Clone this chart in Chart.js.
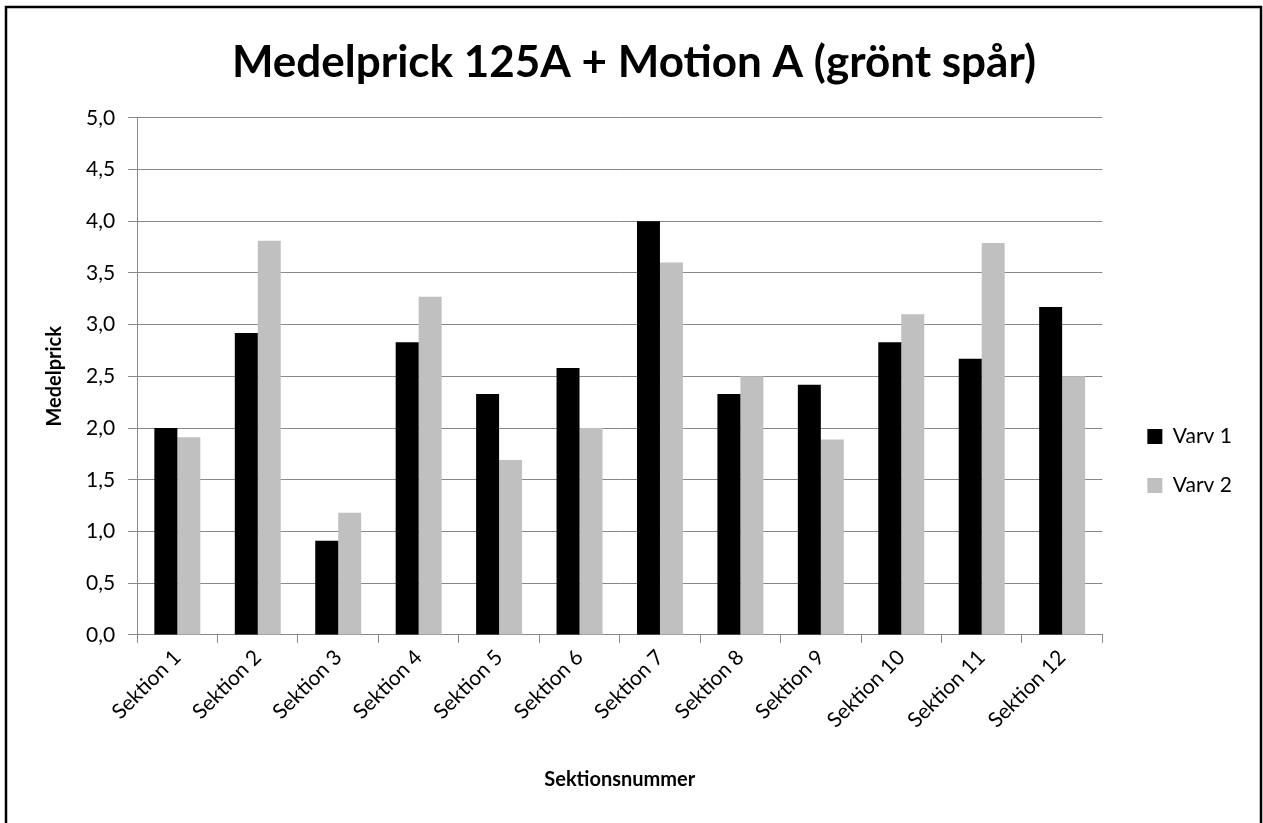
<!DOCTYPE html>
<html>
<head>
<meta charset="utf-8">
<script src="https://cdn.jsdelivr.net/npm/chart.js@4"></script>
<style>
    body { margin: 0; background: #fff; }
    #wrap { width: 1263px; height: 823px; position: relative; }
</style>
</head>
<body>
<div id="wrap"><canvas id="myChart"></canvas></div>
<script>
const sektioner = ['Sektion 1', 'Sektion 2', 'Sektion 3', 'Sektion 4', 'Sektion 5', 'Sektion 6',
    'Sektion 7', 'Sektion 8', 'Sektion 9', 'Sektion 10', 'Sektion 11', 'Sektion 12'];
const varv1 = [2.0, 2.92, 0.91, 2.83, 2.33, 2.58, 4.0, 2.33, 2.42, 2.83, 2.67, 3.17];
const varv2 = [1.91, 3.81, 1.18, 3.27, 1.69, 2.0, 3.6, 2.5, 1.89, 3.1, 3.79, 2.5];

const font = 'Lato, "Open Sans", sans-serif';

// white background, outer frame, legend nudged like the original
const frame = {
    id: 'frame',
    afterLayout(chart) {
        const lg = chart.legend;
        lg.top += 56;
        lg.bottom += 56;
        lg.left += 17;
        lg.right += 17;
    },
    beforeDraw(chart) {
        const c = chart.ctx;
        c.save();
        c.fillStyle = '#fff';
        c.fillRect(0, 0, chart.width, chart.height);
        c.restore();
    },
    afterDraw(chart) {
        const c = chart.ctx;
        c.save();
        c.strokeStyle = '#000';
        c.lineWidth = 2.5;
        c.strokeRect(6, 7, 1255, 818);
        c.restore();
    }
};

const ctx = document.getElementById('myChart');

new Chart(ctx, {
    type: 'bar',
    data: {
        labels: sektioner,
        datasets: [{
            label: 'Varv 1',
            data: varv1,
            backgroundColor: '#000000',
            borderWidth: 0
        }, {
            label: 'Varv 2',
            data: varv2,
            backgroundColor: '#c0c0c0',
            borderWidth: 0
        }]
    },
    options: {
        responsive: true,
        maintainAspectRatio: false,
        animation: false,
        categoryPercentage: 2 / 3.5,
        barPercentage: 1,
        layout: {
            padding: { left: 43, right: 38, top: 18, bottom: 31 }
        },
        plugins: {
            title: {
                display: true,
                text: 'Medelprick 125A + Motion A (grönt spår)',
                color: '#000',
                font: { family: font, size: 44, weight: 'bold' },
                padding: { top: 18, bottom: 29 }
            },
            legend: {
                position: 'right',
                labels: {
                    color: '#000',
                    font: { family: font, size: 21 },
                    boxWidth: 15,
                    boxHeight: 15,
                    padding: 28
                }
            },
            tooltip: { enabled: false }
        },
        scales: {
            x: {
                grid: {
                    display: true,
                    drawOnChartArea: false,
                    color: '#888',
                    tickLength: 8,
                    offset: true
                },
                border: { color: '#888', width: 1 },
                ticks: {
                    color: '#000',
                    font: { family: font, size: 21 },
                    minRotation: 45,
                    maxRotation: 45,
                    padding: 2
                },
                title: {
                    display: true,
                    text: 'Sektionsnummer',
                    color: '#000',
                    font: { family: font, size: 20, weight: 'bold' },
                    padding: { top: 33, bottom: 0 }
                }
            },
            y: {
                min: 0,
                max: 5,
                grid: {
                    color: '#888',
                    tickLength: 9
                },
                border: { color: '#888', width: 1 },
                ticks: {
                    stepSize: 0.5,
                    color: '#000',
                    font: { family: font, size: 21 },
                    padding: 13,
                    callback: v => v.toFixed(1).replace('.', ',')
                },
                title: {
                    display: true,
                    text: 'Medelprick',
                    color: '#000',
                    font: { family: font, size: 20, weight: 'bold' },
                    padding: { top: 0, bottom: 6 }
                }
            }
        }
    },
    plugins: [frame]
});
</script>
</body>
</html>
